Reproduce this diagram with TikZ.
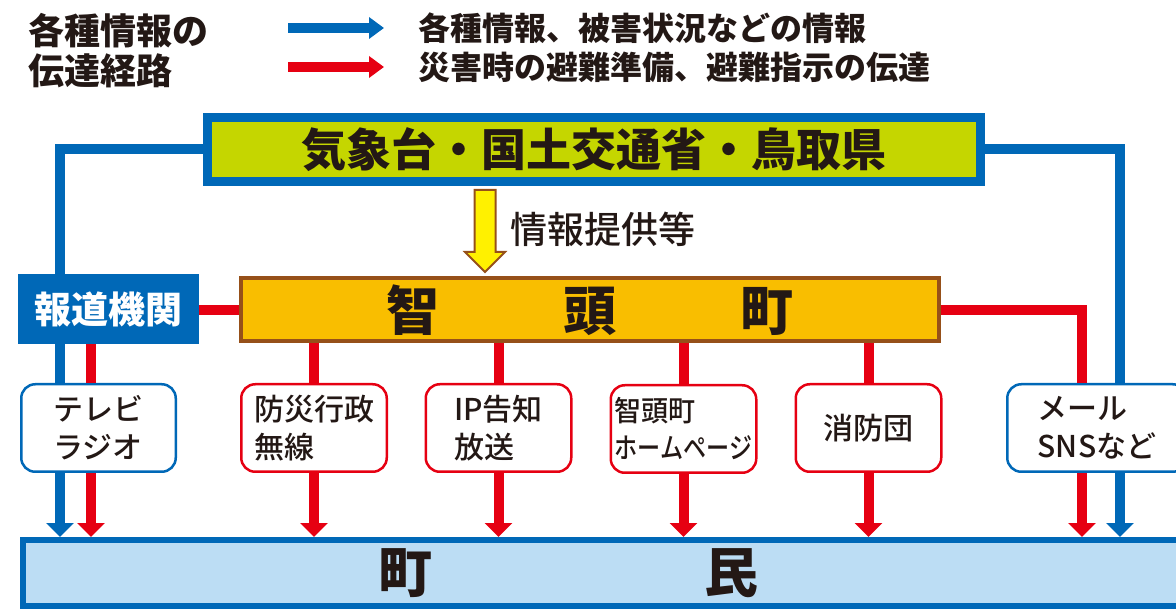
\documentclass[tikz,border=0pt]{standalone}
\usepackage{fontspec}
\setmainfont{Noto Sans CJK JP}
\newfontfamily\mediumjp{Noto Sans CJK JP Medium}
\usepackage{xcolor}
\usepackage{graphicx}
\usepackage{tikz}
\usetikzlibrary{positioning}
\usetikzlibrary{arrows.meta}
\usetikzlibrary{calc}
\definecolor{infoblue}{RGB}{0,104,183}
\definecolor{alertred}{RGB}{230,0,18}
\definecolor{leafgreen}{RGB}{197,214,0}
\definecolor{townorange}{RGB}{249,190,0}
\definecolor{townbrown}{RGB}{150,80,25}
\definecolor{arrowyellow}{RGB}{255,241,0}
\definecolor{paleblue}{RGB}{188,221,244}
\definecolor{ink}{RGB}{35,24,21}
\tikzstyle{blueline} = [draw,infoblue,line width=10pt]
\tikzstyle{redline} = [draw,alertred,line width=10pt]
\tikzstyle{bluearrow} = [blueline,-{Triangle[width=27pt,length=14pt]}]
\tikzstyle{redarrow} = [redline,-{Triangle[width=27pt,length=14pt]}]
\tikzstyle{legendarrow} = [-{Triangle[width=21pt,length=15pt]}]
\tikzstyle{channel}=[rectangle,rounded corners=14pt,draw,line width=2.5pt,fill=white,minimum height=87.5pt,inner sep=0pt,align=left,text=ink,font=\fontsize{30}{38}\selectfont\mediumjp]
\tikzset{bigbox/.style={rectangle,inner sep=0pt,text=ink,font=\fontsize{#1}{#1}\selectfont\bfseries}}

\begin{document}
\begin{tikzpicture}[x=1pt,y=-1pt]
  \useasboundingbox (0,0) rectangle (1176,609);
  \clip (0,0) rectangle (1176,609);

  % legend
  \node[anchor=north west,align=left,inner sep=0pt,text=ink,font=\fontsize{36}{40}\selectfont\bfseries] (legtitle) at (28,13) {各種情報の\\伝達経路};
  \coordinate (lb0) at (288,28); \coordinate (lb1) at (384,28);
  \coordinate (lr0) at (288,67); \coordinate (lr1) at (384,67);
  \draw[blueline,legendarrow] (lb0) -- (lb1);
  \draw[redline,legendarrow] (lr0) -- (lr1);
  \node[anchor=west,inner sep=0pt,text=ink,font=\fontsize{32}{32}\selectfont\bfseries] (leginfo) at (418,28) {各種情報、被害状況などの情報};
  \node[anchor=west,inner sep=0pt,text=ink,font=\fontsize{32}{32}\selectfont\bfseries] (legalert) at (418,67) {災害時の避難準備、避難指示の伝達};

  % main boxes
  \node[bigbox=45,draw=infoblue,fill=leafgreen,line width=9pt,minimum width=773pt,minimum height=64pt] (agency) at (594,149.5) {気象台・国土交通省・鳥取県};
  \node[bigbox=53,draw=townbrown,fill=townorange,line width=4pt,minimum width=698pt,minimum height=63pt] (town) at (590,310) {智\hspace{124pt}頭\hspace{124pt}町};
  \node[bigbox=37,fill=infoblue,text=white,minimum width=181pt,minimum height=70pt] (media) at (108.5,309) {報道機関};
  \node[bigbox=54,draw=infoblue,fill=paleblue,line width=6pt,minimum width=1174pt,minimum height=66pt] (residents) at (610,573) {町\hspace{272pt}民\hspace{84pt}\mbox{}};

  % channels
  \foreach \x/\w/\name/\col/\label in {98.5/154.5/tv/infoblue/{テレビ\\ラジオ}, 314/145.5/bousai/alertred/{防災行政\\無線}, 498.5/145.5/ip/alertred/{IP告知\\放送}, 868.5/145.5/fire/alertred/{消防団}, 1097/179.5/mail/infoblue/{メール\\SNSなど}}
          \node[channel,draw=\col,minimum width=\w pt] (\name) at (\x,428) {\label};
  \node[channel,draw=alertred,minimum width=145.5pt,font=\fontsize{28.5}{37}\selectfont\mediumjp] (homepage) at (683.5,429) {\scalebox{0.95}[1]{智頭町}\\\scalebox{0.81}[1]{ホームページ}};

  % information provided
  \def\ax{485}
  \draw[townbrown,fill=arrowyellow,line width=2pt] (\ax-10.5,190) -- (\ax+10.5,190) -- (\ax+10.5,252) -- (\ax+20,252) -- (\ax,272) -- (\ax-20,252) -- (\ax-10.5,252) -- cycle;
  \node[anchor=west,inner sep=0pt,text=ink,font=\fontsize{37}{37}\selectfont\mediumjp] (provide) at (510,229) {情報提供等};

  % blue routes
  \coordinate (bl) at (60,0); \coordinate (br) at (1120,0);
  \path[blueline] (agency.west) -| (bl |- media.north);
  \path[blueline] (bl |- media.south) -- (bl |- tv.north);
  \path[bluearrow] (bl |- tv.south) -- (bl |- residents.north);
  \path[blueline] (agency.east) -| (br |- mail.north);
  \path[bluearrow] (br |- mail.south) -- (br |- residents.north);

  % red routes
  \coordinate (rl) at (91,0); \coordinate (rr) at (1082,0);
  \path[redline] (town.west) -- (town.west -| media.east);
  \path[redline] (rl |- media.south) -- (rl |- tv.north);
  \path[redarrow] (rl |- tv.south) -- (rl |- residents.north);
  \foreach \name in {bousai,ip,homepage,fire}
  {
         \path[redline] (town.south -| \name.north) -- (\name.north);
         \path[redarrow] (\name.south) -- (\name.south |- residents.north);
  }
  \path[redline] (town.east) -| (rr |- mail.north);
  \path[redarrow] (rr |- mail.south) -- (rr |- residents.north);

\end{tikzpicture}
\end{document}
